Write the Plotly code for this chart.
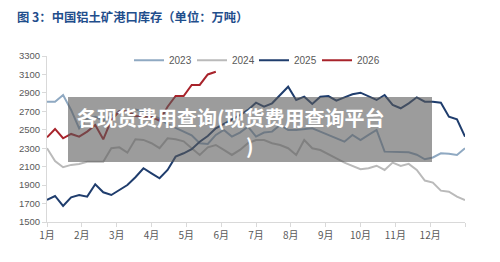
import plotly.graph_objects as go

# weekly index (0..52) across the year
weeks = list(range(53))
month_labels = ["1月", "2月", "3月", "4月", "5月", "6月", "7月", "8月", "9月", "10月", "11月", "12月", ""]

s2023 = [2805, 2805, 2877, 2715, 2516, 2620, 2640, 2600, 2650, 2700, 2690, 2720, 2700, 2660,
         2620, 2560, 2520, 2480, 2440, 2354, 2347, 2444, 2498, 2426, 2470, 2534, 2426, 2470,
         2480, 2552, 2498, 2498, 2505, 2516, 2480, 2444, 2408, 2371, 2444, 2389, 2444, 2498,
         2263, 2263, 2263, 2255, 2230, 2180, 2200, 2245, 2240, 2227, 2300]
s2024 = [2300, 2160, 2094, 2119, 2129, 2154, 2154, 2154, 2300, 2310, 2252, 2397, 2390, 2354,
         2300, 2408, 2397, 2375, 2300, 2227, 2310, 2335, 2281, 2227, 2281, 2354, 2389, 2389,
         2354, 2335, 2300, 2227, 2389, 2300, 2280, 2240, 2191, 2144, 2110, 2072, 2083, 2110,
         2064, 2144, 2108, 2130, 2064, 1949, 1927, 1840, 1829, 1775, 1739]
s2025 = [1739, 1782, 1674, 1768, 1793, 1775, 1909, 1822, 1793, 1847, 1901, 1985, 2083, 2028,
         1974, 2064, 2209, 2245, 2289, 2371, 2433, 2516, 2563, 2606, 2660, 2715, 2794, 2750,
         2787, 2877, 2967, 2823, 2859, 2780, 2859, 2866, 2815, 2852, 2885, 2902, 2859, 2823,
         2877, 2769, 2733, 2787, 2852, 2805, 2805, 2794, 2642, 2614, 2425]
s2026 = [2418, 2509, 2408, 2455, 2426, 2480, 2552, 2397, 2606, 2700, 2700, 2650, 2645, 2640,
         2599, 2750, 2866, 2866, 2986, 2986, 3100, 3130]

series = [
    ("2023", s2023, "#8fa9c2"),
    ("2024", s2024, "#bababa"),
    ("2025", s2025, "#1f3d6d"),
    ("2026", s2026, "#a8232b"),
]

# one legend per series so each entry sits where the reference has it
legend_ids = ["legend", "legend2", "legend3", "legend4"]
legend_px = [129, 192, 254, 317]

fig = go.Figure()
for (name, vals, color), lid in zip(series, legend_ids):
    fig.add_trace(go.Scatter(
        x=weeks[:len(vals)], y=vals, name=name, mode="lines",
        line=dict(color=color, width=2), legend=lid,
    ))

n = len(weeks) - 1
layout_legends = {}
for lid, px in zip(legend_ids, legend_px):
    layout_legends[lid] = dict(
        orientation="h", x=(px - 47) / 418, y=0.975, xanchor="left", yanchor="middle",
        font=dict(size=10, color="#595959"), bgcolor="rgba(0,0,0,0)", itemwidth=30,
    )

fig.update_layout(
    width=500, height=262,
    margin=dict(l=47, r=35, t=56, b=40),
    paper_bgcolor="white", plot_bgcolor="white",
    font=dict(family="Liberation Sans, Arial, sans-serif", color="#595959"),
    showlegend=True,
    xaxis=dict(
        range=[0, n], tickmode="array",
        tickvals=[n * k / 12 for k in range(13)], ticktext=month_labels,
        showgrid=False, zeroline=False, showline=True, linecolor="#d9d9d9",
        ticks="outside", ticklen=4, tickcolor="#d9d9d9",
        tickfont=dict(size=10, color="#595959",
                      family="Noto Sans CJK SC, Liberation Sans, sans-serif"),
    ),
    yaxis=dict(
        range=[1500, 3300], tickmode="linear", tick0=1500, dtick=200,
        showgrid=False, zeroline=False, showline=True, linecolor="#d9d9d9",
        ticks="outside", ticklen=4, tickcolor="#d9d9d9",
        tickfont=dict(size=9.5, color="#595959"),
    ),
    **layout_legends,
)

fig.add_annotation(
    xref="paper", yref="paper", x=(15 - 47) / 418, y=1 + (56 - 17) / 166,
    xanchor="left", yanchor="middle", showarrow=False,
    text="<b>图 3：中国铝土矿港口库存（单位：万吨）</b>",
    font=dict(size=12.3, color="#1f4e8c", family="Noto Sans CJK SC"),
)

# watermark overlay
fig.add_shape(
    type="rect", xref="paper", yref="paper",
    x0=(68 - 47) / 418, x1=(432 - 47) / 418,
    y0=(222 - 162) / 166, y1=(222 - 97) / 166,
    fillcolor="rgba(90,90,90,0.6)", line=dict(width=0), layer="above",
)
fig.add_annotation(
    xref="paper", yref="paper", x=(75 - 47) / 418, y=(222 - 117) / 166,
    xanchor="left", yanchor="middle", showarrow=False,
    text="<b>各现货费用查询(现货费用查询平台</b>",
    font=dict(size=20, color="white", family="Noto Sans CJK SC"),
)
fig.add_annotation(
    xref="paper", yref="paper", x=(250 - 47) / 418, y=(222 - 145) / 166,
    xanchor="center", yanchor="middle", showarrow=False,
    text="<b>)</b>",
    font=dict(size=20, color="white", family="Noto Sans CJK SC"),
)

fig.write_html("out.html")
